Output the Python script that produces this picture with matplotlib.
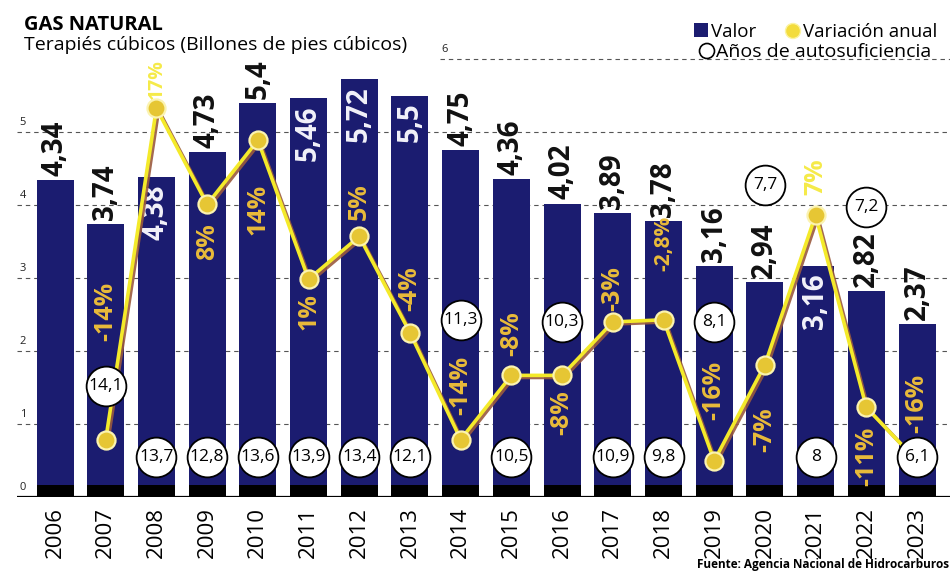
import matplotlib.pyplot as plt
import matplotlib.patheffects as pe
from matplotlib.patches import Rectangle, Ellipse

plt.rcParams['font.family'] = ['Open Sans', 'DejaVu Sans']

# datos
years = ['2006', '2007', '2008', '2009', '2010', '2011', '2012', '2013', '2014',
         '2015', '2016', '2017', '2018', '2019', '2020', '2021', '2022', '2023']
valor = [4.34, 3.74, 4.38, 4.73, 5.4, 5.46, 5.72, 5.5, 4.75,
         4.36, 4.02, 3.89, 3.78, 3.16, 2.94, 3.16, 2.82, 2.37]
# variacion anual (%) desde 2007
variacion = [-14, 17, 8, 14, 1, 5, -4, -14, -8, -8, -3, -2.8, -16, -7, 7, -11, -16]
# años de autosuficiencia desde 2007
anos = [14.1, 13.7, 12.8, 13.6, 13.9, 13.4, 12.1, 11.3, 10.5,
        10.3, 10.9, 9.8, 8.1, 7.7, 8, 7.2, 6.1]

# disposicion de etiquetas
inside_val = [False, False, True, False, False, True, True, True, False,
              False, False, False, False, False, False, True, False, False]
anos_y = [1.52, 0.55, 0.55, 0.55, 0.55, 0.55, 0.55, 2.42, 0.55,
          2.4, 0.55, 0.55, 2.4, 4.27, 0.55, 3.97, 0.55]
pct_dy = [92, 21, -27, -50, -23, 25, 32, 39, 30, -27, 24, 55, 51, -47, 28, -35, 41]
pct_fs = [18, 14, 18, 18, 18, 18, 18, 18, 18, 18, 18, 15, 18, 18, 18, 18, 18]

NAVY = '#1b1c70'
W, H = 950, 573

fig = plt.figure(figsize=(9.5, 5.73), dpi=100)
fig.patch.set_facecolor('white')

ax = fig.add_axes([17 / W, (H - 497) / H, (W - 17) / W, 6.8 * 73 / H])
ax.set_xlim(-0.75, 17.65)
ax.set_ylim(0, 6.8)
for s in ax.spines.values():
    s.set_visible(False)
ax.set_yticks([])
x = list(range(len(years)))
ax.set_xticks(x, years, rotation=90, fontsize=16)
ax.tick_params(axis='x', length=0, pad=7)

# lineas guia
ax.hlines([1, 2, 3, 4, 5], -0.75, 17.65, colors='#555555', linestyles=(0, (4, 3.5)), lw=0.8, zorder=1)
ax.hlines(6, 7.6, 17.65, colors='#555555', linestyles=(0, (4, 3.5)), lw=0.8, zorder=1)
for v in range(6):
    ax.text(-0.7, v + 0.06, str(v), fontsize=8, va='bottom', ha='left', color='#222222')
ax.text(7.62, 6.06, '6', fontsize=8, va='bottom', ha='left', color='#222222')

# barras
ax.bar(x, valor, width=0.73, color=NAVY, zorder=2)
ax.bar(x, [0.165] * len(x), width=0.73, color='black', zorder=3)
ax.axhline(0, color='black', lw=1.6, zorder=4)

for i, v in enumerate(valor):
    txt = f'{v:g}'.replace('.', ',')
    if inside_val[i]:
        ax.annotate(txt, (i, v), xytext=(0, -5), textcoords='offset points', rotation=90,
                    ha='center', va='top', fontsize=20, fontweight='bold', color='#f2f2fa', zorder=5)
    else:
        ax.annotate(txt, (i, v), xytext=(0, 3), textcoords='offset points', rotation=90,
                    ha='center', va='bottom', fontsize=20, fontweight='bold', color='#111111', zorder=5)

# variacion anual en eje secundario
ax2 = ax.twinx()
ax2.set_ylim(-19.38, 27.07)
ax2.axis('off')
xv = x[1:]
ax2.plot(xv, variacion, color='#f4ea2a', lw=2.6, zorder=2,
         path_effects=[pe.SimpleLineShadow(offset=(1.5, -1.5), shadow_color='#9a5a3e', alpha=0.9),
                       pe.Normal()])
ax2.plot(xv, variacion, ls='none', marker='o', ms=13, mfc='#e6c634', mec='#fbf3b0', mew=1.6, zorder=3)

for i, p in enumerate(variacion):
    txt = f'{p:g}%'.replace('.', ',')
    # posicion de la etiqueta en unidades del eje principal
    py = ax.transData.inverted().transform(ax2.transData.transform((xv[i], p)))[1] + pct_dy[i] / 52.6
    col = '#e9bb3a' if py < valor[xv[i]] else '#f5ea48'
    ax2.annotate(txt, (xv[i], p), xytext=(0, pct_dy[i]), textcoords='offset points', rotation=90,
                 ha='center', va='center', fontsize=pct_fs[i], fontweight='bold', color=col, zorder=4)

# años de autosuficiencia
ax2.scatter(xv, anos_y, s=820, facecolor='white', edgecolor='black', lw=1.3,
            transform=ax.transData, zorder=5)
for i, a in enumerate(anos):
    ax2.text(xv[i], anos_y[i], f'{a:g}'.replace('.', ','), transform=ax.transData,
             ha='center', va='center', fontsize=12.5, color='black', zorder=6)

# titulos
def fx(px):
    return px / W

def fy(py):
    return 1 - py / H

fig.text(fx(24), fy(30), 'GAS NATURAL', fontsize=14.5, fontweight='bold', va='baseline', ha='left')
fig.text(fx(24), fy(50), 'Terapiés cúbicos (Billones de pies cúbicos)', fontsize=14, va='baseline', ha='left')

# leyenda
fig.add_artist(Rectangle((fx(694), fy(37)), 14 / W, 14 / H, transform=fig.transFigure,
                         facecolor=NAVY, edgecolor='none'))
fig.text(fx(711), fy(37), 'Valor', fontsize=13.5, va='baseline', ha='left')
fig.add_artist(Ellipse((fx(793), fy(31)), 15 / W, 15 / H, transform=fig.transFigure,
                       facecolor='#f3dc3c', edgecolor='#fbf3a0'))
fig.text(fx(803), fy(37), 'Variación anual', fontsize=13.5, va='baseline', ha='left')
fig.add_artist(Ellipse((fx(707), fy(51)), 15 / W, 15 / H, transform=fig.transFigure,
                       facecolor='white', edgecolor='black', lw=1.2))
fig.text(fx(716), fy(57), 'Años de autosuficiencia', fontsize=14, va='baseline', ha='left')

fig.text(0.999, fy(568), 'Fuente: Agencia Nacional de Hidrocarburos', fontsize=8.5,
         fontweight='bold', va='baseline', ha='right')

fig.savefig('out.png', dpi=100)
